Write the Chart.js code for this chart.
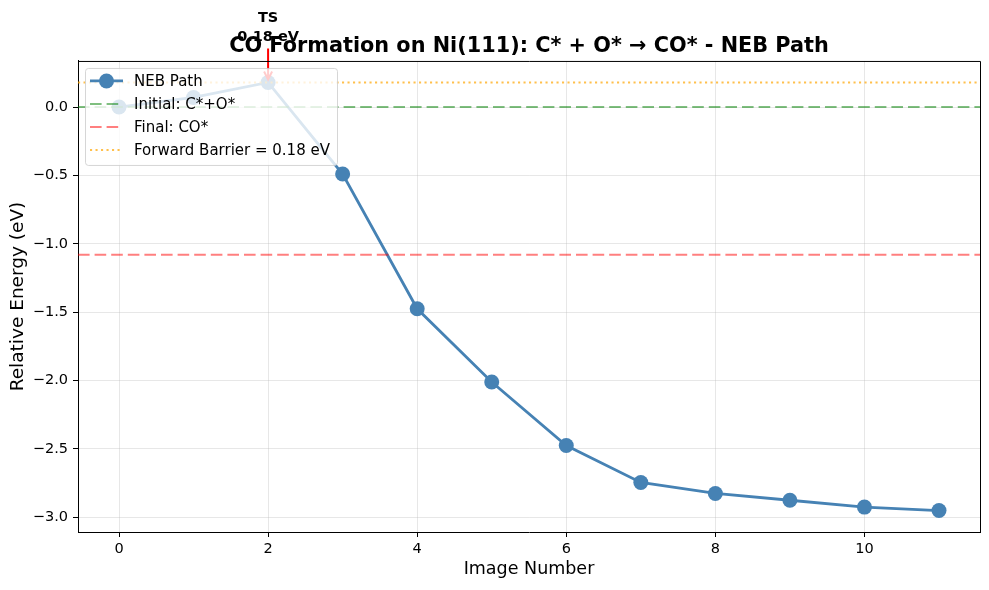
<!DOCTYPE html>
<html>
<head>
<meta charset="utf-8">
<script src="https://cdn.jsdelivr.net/npm/chart.js@4"></script>
<style>
  body { margin: 0; background: #fff; }
</style>
</head>
<body>
<canvas id="nebChart" width="989" height="590"></canvas>
<script>
const imageNumbers = [0, 1, 2, 3, 4, 5, 6, 7, 8, 9, 10, 11]
const energies = [0.0, 0.07, 0.18, -0.49, -1.475, -2.01, -2.475, -2.745, -2.825, -2.875, -2.925, -2.95]
const initialEnergy = 0.0
const finalEnergy = -1.08
const forwardBarrier = 0.18
const tsIndex = 2
const xTicks = [0, 2, 4, 6, 8, 10]
const yTicks = [0.0, -0.5, -1.0, -1.5, -2.0, -2.5, -3.0]
const xMin = -0.55, xMax = 11.55
const yMin = -3.107, yMax = 0.337

const steel = '#4682b4'
const greenLine = 'rgba(0,128,0,0.5)'
const redLine = 'rgba(255,0,0,0.5)'
const orangeLine = 'rgba(255,165,0,0.7)'
const dashed = [11.6, 5]
const dotted = [2.1, 3.4]

Chart.defaults.font.family = '"DejaVu Sans", sans-serif'
Chart.defaults.color = '#000'

function hline(value) {
    return [{ x: xMin, y: value }, { x: xMax, y: value }]
}

const legendItems = [
    { text: 'NEB Path', color: steel, dash: [], marker: true, width: 2.8 },
    { text: 'Initial: C*+O*', color: greenLine, dash: dashed, width: 2.1 },
    { text: 'Final: CO*', color: redLine, dash: dashed, width: 2.1 },
    { text: `Forward Barrier = ${forwardBarrier.toFixed(2)} eV`, color: orangeLine, dash: dotted, width: 2.1 }
]

const decorations = {
    id: 'decorations',
    afterDatasetsDraw(chart) {
        // TS annotation with arrow
        const ctx = chart.ctx
        const px = chart.scales.x.getPixelForValue(imageNumbers[tsIndex])
        const py = chart.scales.y.getPixelForValue(energies[tsIndex])
        ctx.save()
        ctx.strokeStyle = 'red'
        ctx.lineWidth = 2
        ctx.beginPath()
        ctx.moveTo(px, py - 34)
        ctx.lineTo(px, py - 3)
        ctx.moveTo(px - 4, py - 11)
        ctx.lineTo(px, py - 3)
        ctx.lineTo(px + 4, py - 11)
        ctx.stroke()
        ctx.fillStyle = '#000'
        ctx.font = 'bold 14.5px "DejaVu Sans"'
        ctx.textAlign = 'center'
        ctx.textBaseline = 'middle'
        ctx.fillText('TS', px, py - 64)
        ctx.fillText(`${energies[tsIndex].toFixed(2)} eV`, px, py - 45)
        ctx.restore()
    },
    afterDraw(chart) {
        const ctx = chart.ctx
        const a = chart.chartArea
        ctx.save()
        // top and right spines
        ctx.strokeStyle = '#000'
        ctx.lineWidth = 1
        ctx.beginPath()
        ctx.moveTo(a.left, a.top + 0.5)
        ctx.lineTo(a.right + 0.5, a.top + 0.5)
        ctx.lineTo(a.right + 0.5, a.bottom)
        ctx.stroke()

        // legend box
        const bx = a.left + 7, by = a.top + 7, bw = 252, bh = 97
        ctx.fillStyle = 'rgba(255,255,255,0.8)'
        ctx.strokeStyle = 'rgba(204,204,204,0.8)'
        ctx.beginPath()
        ctx.roundRect(bx + 0.5, by + 0.5, bw, bh, 3)
        ctx.fill()
        ctx.stroke()

        ctx.font = '15px "DejaVu Sans"'
        ctx.textAlign = 'left'
        ctx.textBaseline = 'middle'
        legendItems.forEach((item, i) => {
            const cy = by + 13 + i * 23
            ctx.strokeStyle = item.color
            ctx.lineWidth = item.width
            ctx.setLineDash(item.dash)
            ctx.beginPath()
            ctx.moveTo(bx + 5, cy)
            ctx.lineTo(bx + 38, cy)
            ctx.stroke()
            ctx.setLineDash([])
            if (item.marker) {
                ctx.fillStyle = item.color
                ctx.beginPath()
                ctx.arc(bx + 21.5, cy, 7.5, 0, Math.PI * 2)
                ctx.fill()
            }
            ctx.fillStyle = '#000'
            ctx.fillText(item.text, bx + 49, cy + 1)
        })
        ctx.restore()
    }
}

new Chart(document.getElementById('nebChart'), {
    type: 'line',
    data: {
        datasets: [
            {
                label: 'Initial: C*+O*',
                data: hline(initialEnergy),
                borderColor: greenLine,
                borderWidth: 2.1,
                borderDash: dashed,
                pointRadius: 0,
                order: 3
            },
            {
                label: 'Final: CO*',
                data: hline(finalEnergy),
                borderColor: redLine,
                borderWidth: 2.1,
                borderDash: dashed,
                pointRadius: 0,
                order: 2
            },
            {
                label: 'Forward Barrier',
                data: hline(forwardBarrier),
                borderColor: orangeLine,
                borderWidth: 2.1,
                borderDash: dotted,
                pointRadius: 0,
                order: 1
            },
            {
                label: 'NEB Path',
                data: imageNumbers.map((n, i) => ({ x: n, y: energies[i] })),
                borderColor: steel,
                backgroundColor: steel,
                borderWidth: 2.8,
                pointRadius: 7.5,
                pointBorderWidth: 0,
                pointBackgroundColor: steel,
                tension: 0,
                order: 4
            }
        ]
    },
    options: {
        responsive: false,
        animation: false,
        layout: { padding: { top: 0, right: 9, bottom: 0, left: 0 } },
        scales: {
            x: {
                type: 'linear',
                min: xMin,
                max: xMax,
                afterBuildTicks: s => { s.ticks = xTicks.map(v => ({ value: v })) },
                afterFit: s => { s.height = 58 },
                grid: { color: 'rgba(176,176,176,0.3)', tickColor: '#000', tickLength: 5, lineWidth: 1 },
                border: { color: '#000', width: 1 },
                ticks: { font: { size: 14.5 }, padding: 4, maxRotation: 0, callback: v => String(v) },
                title: { display: true, text: 'Image Number', font: { size: 17.5 }, padding: { top: 0, bottom: 10 } }
            },
            y: {
                min: yMin,
                max: yMax,
                afterBuildTicks: s => { s.ticks = yTicks.map(v => ({ value: v })) },
                afterFit: s => { s.width = 78 },
                grid: { color: 'rgba(176,176,176,0.3)', tickColor: '#000', tickLength: 5, lineWidth: 1 },
                border: { color: '#000', width: 1 },
                ticks: { font: { size: 14.5 }, padding: 5, callback: v => v.toFixed(1).replace('-', '\u2212') },
                title: { display: true, text: 'Relative Energy (eV)', font: { size: 18.5 }, padding: { top: 7, bottom: 0 } }
            }
        },
        plugins: {
            legend: { display: false },
            tooltip: { enabled: false },
            title: {
                display: true,
                fullSize: false,
                text: 'CO Formation on Ni(111): C* + O* \u2192 CO* - NEB Path',
                font: { size: 20.8, weight: 'bold' },
                color: '#000',
                padding: { top: 34, bottom: 2 }
            }
        }
    },
    plugins: [decorations]
})
</script>
</body>
</html>
